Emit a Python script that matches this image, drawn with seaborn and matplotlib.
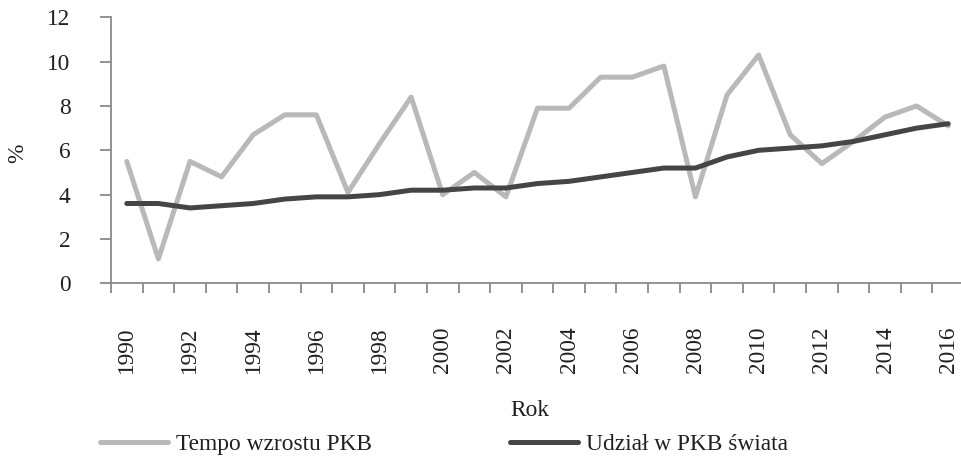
import numpy as np
import pandas as pd
import seaborn as sns
import matplotlib.pyplot as plt
from matplotlib.ticker import MultipleLocator, FixedLocator

# dane
lata = list(range(1990, 2017))
tempo_wzrostu = [5.5, 1.1, 5.5, 4.8, 6.7, 7.6, 7.6, 4.1, 6.3, 8.4, 4.0, 5.0, 3.9, 7.9,
                 7.9, 9.3, 9.3, 9.8, 3.9, 8.5, 10.3, 6.7, 5.4, 6.4, 7.5, 8.0, 7.1]
udzial_pkb = [3.6, 3.6, 3.4, 3.5, 3.6, 3.8, 3.9, 3.9, 4.0, 4.2, 4.2, 4.3, 4.3, 4.5,
              4.6, 4.8, 5.0, 5.2, 5.2, 5.7, 6.0, 6.1, 6.2, 6.4, 6.7, 7.0, 7.2]
serie = ["Tempo wzrostu PKB", "Udział w PKB świata"]
kolory = ["#b8b9bb", "#454545"]

df = pd.DataFrame({"Rok": lata * 2,
                   "wartosc": tempo_wzrostu + udzial_pkb,
                   "seria": [serie[0]] * len(lata) + [serie[1]] * len(lata)})

sns.set_theme(style="ticks")
plt.rcParams['font.family'] = ['Liberation Serif', 'DejaVu Serif']
fs = 16.8
tekst = "#231f20"

fig = plt.figure(figsize=(9.61, 4.59), dpi=100)
ax = fig.add_axes([111 / 961, 175.7 / 459, 853 / 961, 266 / 459])

sns.lineplot(data=df, x="Rok", y="wartosc", hue="seria", palette=kolory,
             linewidth=3.6, solid_capstyle="round", legend=False, ax=ax)

ax.set_xlim(1989.5, 2016.5)
ax.set_ylim(0, 12)
ax.yaxis.set_major_locator(MultipleLocator(2))

# etykiety co 2 lata, kreski pomiędzy kategoriami
ax.xaxis.set_major_locator(FixedLocator(lata[::2]))
ax.xaxis.set_minor_locator(FixedLocator(np.arange(1989.5, 2017, 1)))
ax.set_xticklabels([str(r) for r in lata[::2]], rotation=90)

szary = "#8a8a8a"
for s in ["top", "right"]:
    ax.spines[s].set_visible(False)
for s in ["left", "bottom"]:
    ax.spines[s].set_color(szary)
    ax.spines[s].set_linewidth(1.3)

ax.tick_params(axis="x", which="major", length=0, pad=31, labelsize=fs, labelcolor=tekst)
ax.tick_params(axis="x", which="minor", length=7.5, width=1.3, color=szary)
ax.tick_params(axis="y", length=8, width=1.3, color=szary, pad=21, labelsize=fs,
               labelcolor=tekst)

ax.set_xlabel("")
ax.set_ylabel("")
fig.text(530 / 961, 1 - 410 / 459, "Rok", ha="center", va="center", fontsize=fs, color=tekst)
fig.text(18 / 961, 1 - 153 / 459, "%", ha="center", va="center", rotation=90, fontsize=fs,
         color=tekst)

fig.legend(ax.lines[:2], serie, loc="center left", bbox_to_anchor=(100 / 961, 1 - 444 / 459),
           frameon=False, borderpad=0, borderaxespad=0, ncol=2, handlelength=2.92,
           handletextpad=0.35, columnspacing=5.9, fontsize=fs, labelcolor=tekst)

fig.savefig("out.png", dpi=100)
